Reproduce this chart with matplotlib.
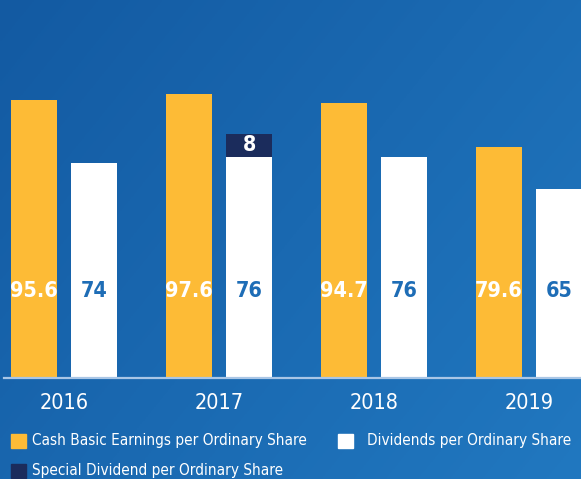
import numpy as np
import matplotlib.pyplot as plt
from matplotlib import font_manager
from matplotlib.patches import Rectangle

# Chart data
years = ['2016', '2017', '2018', '2019']
cash_eps = [95.6, 97.6, 94.7, 79.6]
dividends = [74, 76, 76, 65]
special_div = [0, 8, 0, 0]

yellow = '#FDBB36'
navy = '#1B2C5C'
label_blue = '#1E6DB6'

# look for a narrow / condensed font file, fall back to normal ones
narrow_bold = None
narrow_reg = None
for f in font_manager.fontManager.ttflist:
    nm = f.fname.lower()
    if 'narrow' in nm or 'condensed' in nm:
        if 'bold' in nm and 'italic' not in nm and narrow_bold is None:
            narrow_bold = f.fname
        if 'regular' in nm or (('bold' not in nm) and ('italic' not in nm) and ('oblique' not in nm)):
            if narrow_reg is None:
                narrow_reg = f.fname
if narrow_bold:
    num_font = dict(fontproperties=font_manager.FontProperties(fname=narrow_bold, size=15.5))
else:
    num_font = dict(family='Roboto', fontweight='bold', fontsize=14)
if narrow_reg:
    txt_prop = lambda s: dict(fontproperties=font_manager.FontProperties(fname=narrow_reg, size=s))
else:
    txt_prop = lambda s: dict(family='Open Sans', fontsize=s * 0.85)

fig = plt.figure(figsize=(5.81, 4.79), dpi=100)

# gradient background
bg = fig.add_axes([0, 0, 1, 1], zorder=0)
gx, gy = np.meshgrid(np.linspace(0, 1, 200), np.linspace(0, 1, 200))
t = (gx * 0.6 + gy * 0.4)
c0 = np.array([0x13, 0x5A, 0xA2]) / 255
c1 = np.array([0x21, 0x78, 0xC0]) / 255
img = c0[None, None, :] * (1 - t[..., None]) + c1[None, None, :] * t[..., None]
bg.imshow(img, aspect='auto', extent=[0, 1, 0, 1], origin='upper')
bg.axis('off')

ax = fig.add_axes([0, 101 / 479, 1, 378 / 479], zorder=1)
ax.patch.set_alpha(0)

x = np.arange(len(years))
w = 0.297
off = 0.194

ax.bar(x - off, cash_eps, w, color=yellow, zorder=2)
ax.bar(x + off, dividends, w, color='white', zorder=2)
ax.bar(x + off, special_div, w, bottom=dividends, color=navy, zorder=2)

for i in range(len(years)):
    ax.text(x[i] - off, 30, f'{cash_eps[i]}', ha='center', va='center',
            color='white', **num_font)
    ax.text(x[i] + off, 30, f'{dividends[i]}', ha='center', va='center',
            color=label_blue, **num_font)
    if special_div[i]:
        ax.text(x[i] + off, dividends[i] + special_div[i] / 2, f'{special_div[i]}',
                ha='center', va='center', color='white', **num_font)

ax.set_xlim(-0.413, 3.335)
ax.set_ylim(0, 130)
ax.set_yticks([])
ax.set_xticks([])
for pos, yr in zip(x, years):
    ax.text(pos, -8.6, yr, ha='center', va='center', color='white',
            clip_on=False, **txt_prop(15.5))
for s in ['top', 'right', 'left']:
    ax.spines[s].set_visible(False)
ax.spines['bottom'].set_color('#A9C6E6')
ax.spines['bottom'].set_linewidth(1.6)
ax.spines['bottom'].set_bounds(-0.39, 3.335)

# legend drawn by hand
leg = [(11, 434, yellow, 'Cash Basic Earnings per Ordinary Share', 32, 441),
       (338, 434, 'white', 'Dividends per Ordinary Share', 367, 440),
       (11, 464, navy, 'Special Dividend per Ordinary Share', 32, 471)]
for px, py, col, txt, tx, ty in leg:
    fig.patches.append(Rectangle((px / 581, 1 - (py + 14) / 479), 15 / 581, 14 / 479,
                                 transform=fig.transFigure, color=col, zorder=3))
    fig.text(tx / 581, 1 - ty / 479, txt, color='white',
             va='center', ha='left', zorder=3, **txt_prop(11))

fig.savefig('out.png', dpi=100)
